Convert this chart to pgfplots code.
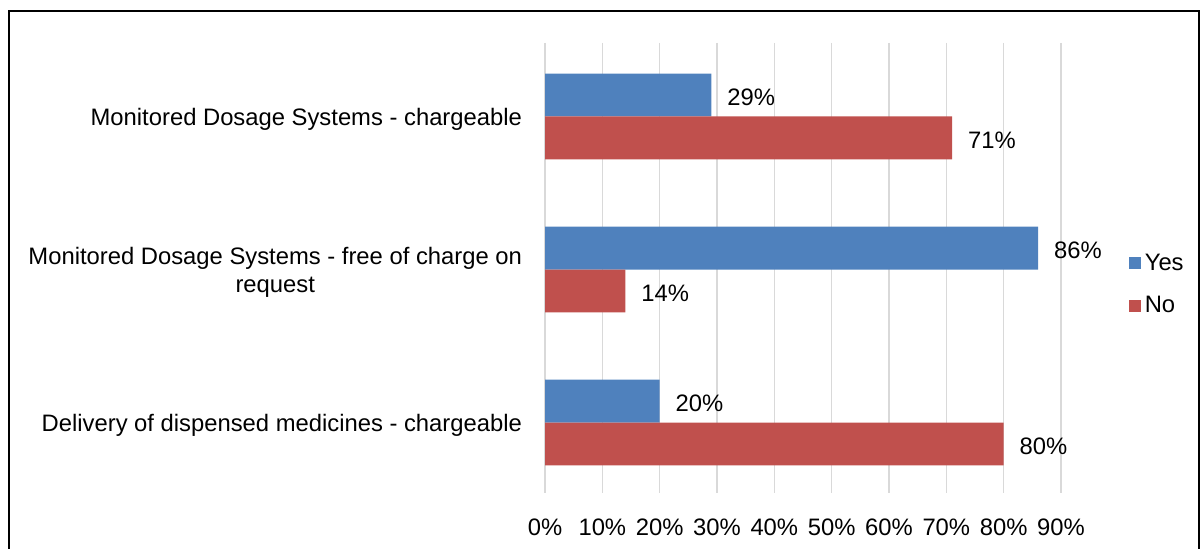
\documentclass[border=0pt]{standalone}
\usepackage{pgfplots}
\pgfplotsset{compat=1.18}
\usepackage{fontspec}
\setmainfont{Liberation Sans}
\definecolor{yesblue}{HTML}{4F81BD}
\definecolor{nored}{HTML}{C0504D}
\definecolor{gridgray}{HTML}{D9D9D9}
\begin{document}
\begin{tikzpicture}
% page = 1202x549 px, 1 px = 0.5pt, origin at top left
\useasboundingbox (0,0) rectangle (601pt,-274.5pt);
\clip (0,0) rectangle (601pt,-274.5pt);
\draw[line width=1pt] (4.5pt,-5.5pt) rectangle (599.5pt,-300pt);
\begin{axis}[
  at={(272.5pt,-246.5pt)}, anchor=south west,
  scale only axis,
  width=258pt, height=225pt,
  xbar, bar width=0.28,
  xmin=0, xmax=90,
  ymin=-0.48, ymax=2.46,
  y dir=reverse,
  ytick={0,1,2},
  yticklabels={Monitored Dosage Systems - chargeable,
    {Monitored Dosage Systems - free of charge on\\request},
    Delivery of dispensed medicines - chargeable},
  yticklabel style={align=center, font=\fontsize{11.9}{14}\selectfont, xshift=-8pt, yshift=-1.5pt},
  xtick={0,10,...,90},
  xticklabel={\pgfmathprintnumber{\tick}\%},
  xticklabel style={font=\fontsize{11.9}{13}\selectfont, yshift=-9.5pt},
  /pgf/number format/assume math mode=true,
  xmajorgrids,
  grid style={gridgray, line width=0.75pt},
  axis line style={draw=none},
  major tick length=0pt,
  nodes near coords={\pgfmathprintnumber{\pgfplotspointmeta}\%},
  nodes near coords style={font=\fontsize{11.9}{13}\selectfont, anchor=west, xshift=4.5pt, yshift=-1pt},
  legend style={at={(1.119,0.463)}, anchor=west, draw=none, fill=none,
    font=\fontsize{11.9}{13}\selectfont, row sep=7.5pt},
  legend cell align=left,
  legend image code/.code={\fill[#1] (0pt,-3pt) rectangle (6pt,3pt);},
]
\addplot[fill=yesblue, draw=none, bar shift=-0.14] coordinates {(29,0) (86,1) (20,2)};
\addlegendentry{Yes}
\addplot[fill=nored, draw=none, bar shift=0.14] coordinates {(71,0) (14,1) (80,2)};
\addlegendentry{No}
\end{axis}
\end{tikzpicture}
\end{document}
